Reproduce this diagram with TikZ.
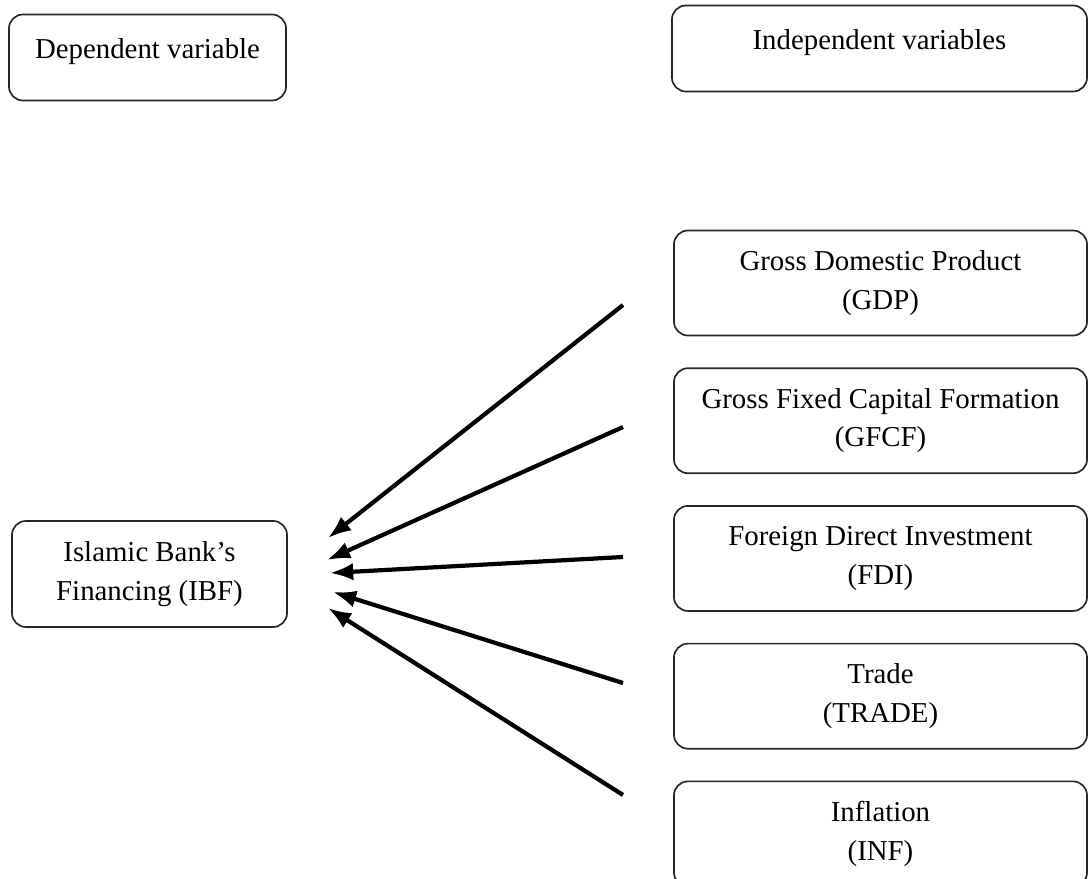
\documentclass[tikz,border=0pt]{standalone}
\usepackage{fontspec}
\setmainfont{Liberation Serif}
\usetikzlibrary{positioning,arrows.meta}
\tikzset{>={Latex}}

\begin{document}
\begin{tikzpicture}[x=0.025cm, y=-0.025cm, node distance=0.775cm,
    box/.style={draw=black!85, line width=1.2pt, rounded corners=0.35cm, align=center,
      inner sep=0pt, font=\fontsize{20.5}{27.5}\selectfont},
    head/.style={box, text height=1.1cm, text depth=1.05cm},
    var/.style={box, minimum width=10.325cm, minimum height=2.625cm},
    link/.style={->, line width=3pt}]
  \useasboundingbox (0,0) rectangle (1088,879);
  % headings
  \node[head, minimum width=6.925cm] (dep) at (147.5,57.5) {Dependent variable};
  \node[head, minimum width=10.375cm] (indep) at (879.5,48.5) {Independent variables};
  % dependent
  \node[box, minimum width=6.875cm, minimum height=2.65cm] (ibf) at (149.5,574)
    {Islamic Bank’s\\Financing (IBF)};
  % independents
  \node[var] (gdp) at (880.5,283) {Gross Domestic Product\\(GDP)};
  \node[var] (gfcf) [below=of gdp] {Gross Fixed Capital Formation\\(GFCF)};
  \node[var] (fdi) [below=of gfcf] {Foreign Direct Investment\\(FDI)};
  \node[var] (trade) [below=of fdi] {Trade\\(TRADE)};
  \node[var] (inf) [below=of trade] {Inflation\\(INF)};
  % arrow ends
  \coordinate (s1) at (623,305); \coordinate (t1) at (328,538);
  \coordinate (s2) at (623,427); \coordinate (t2) at (327,560);
  \coordinate (s3) at (623,557); \coordinate (t3) at (330,573);
  \coordinate (s4) at (623,683); \coordinate (t4) at (333,592);
  \coordinate (s5) at (623,795); \coordinate (t5) at (328,608);
  \path[link] (s1) edge (t1)
              (s2) edge (t2)
              (s3) edge (t3)
              (s4) edge (t4)
              (s5) edge (t5);
\end{tikzpicture}
\end{document}
